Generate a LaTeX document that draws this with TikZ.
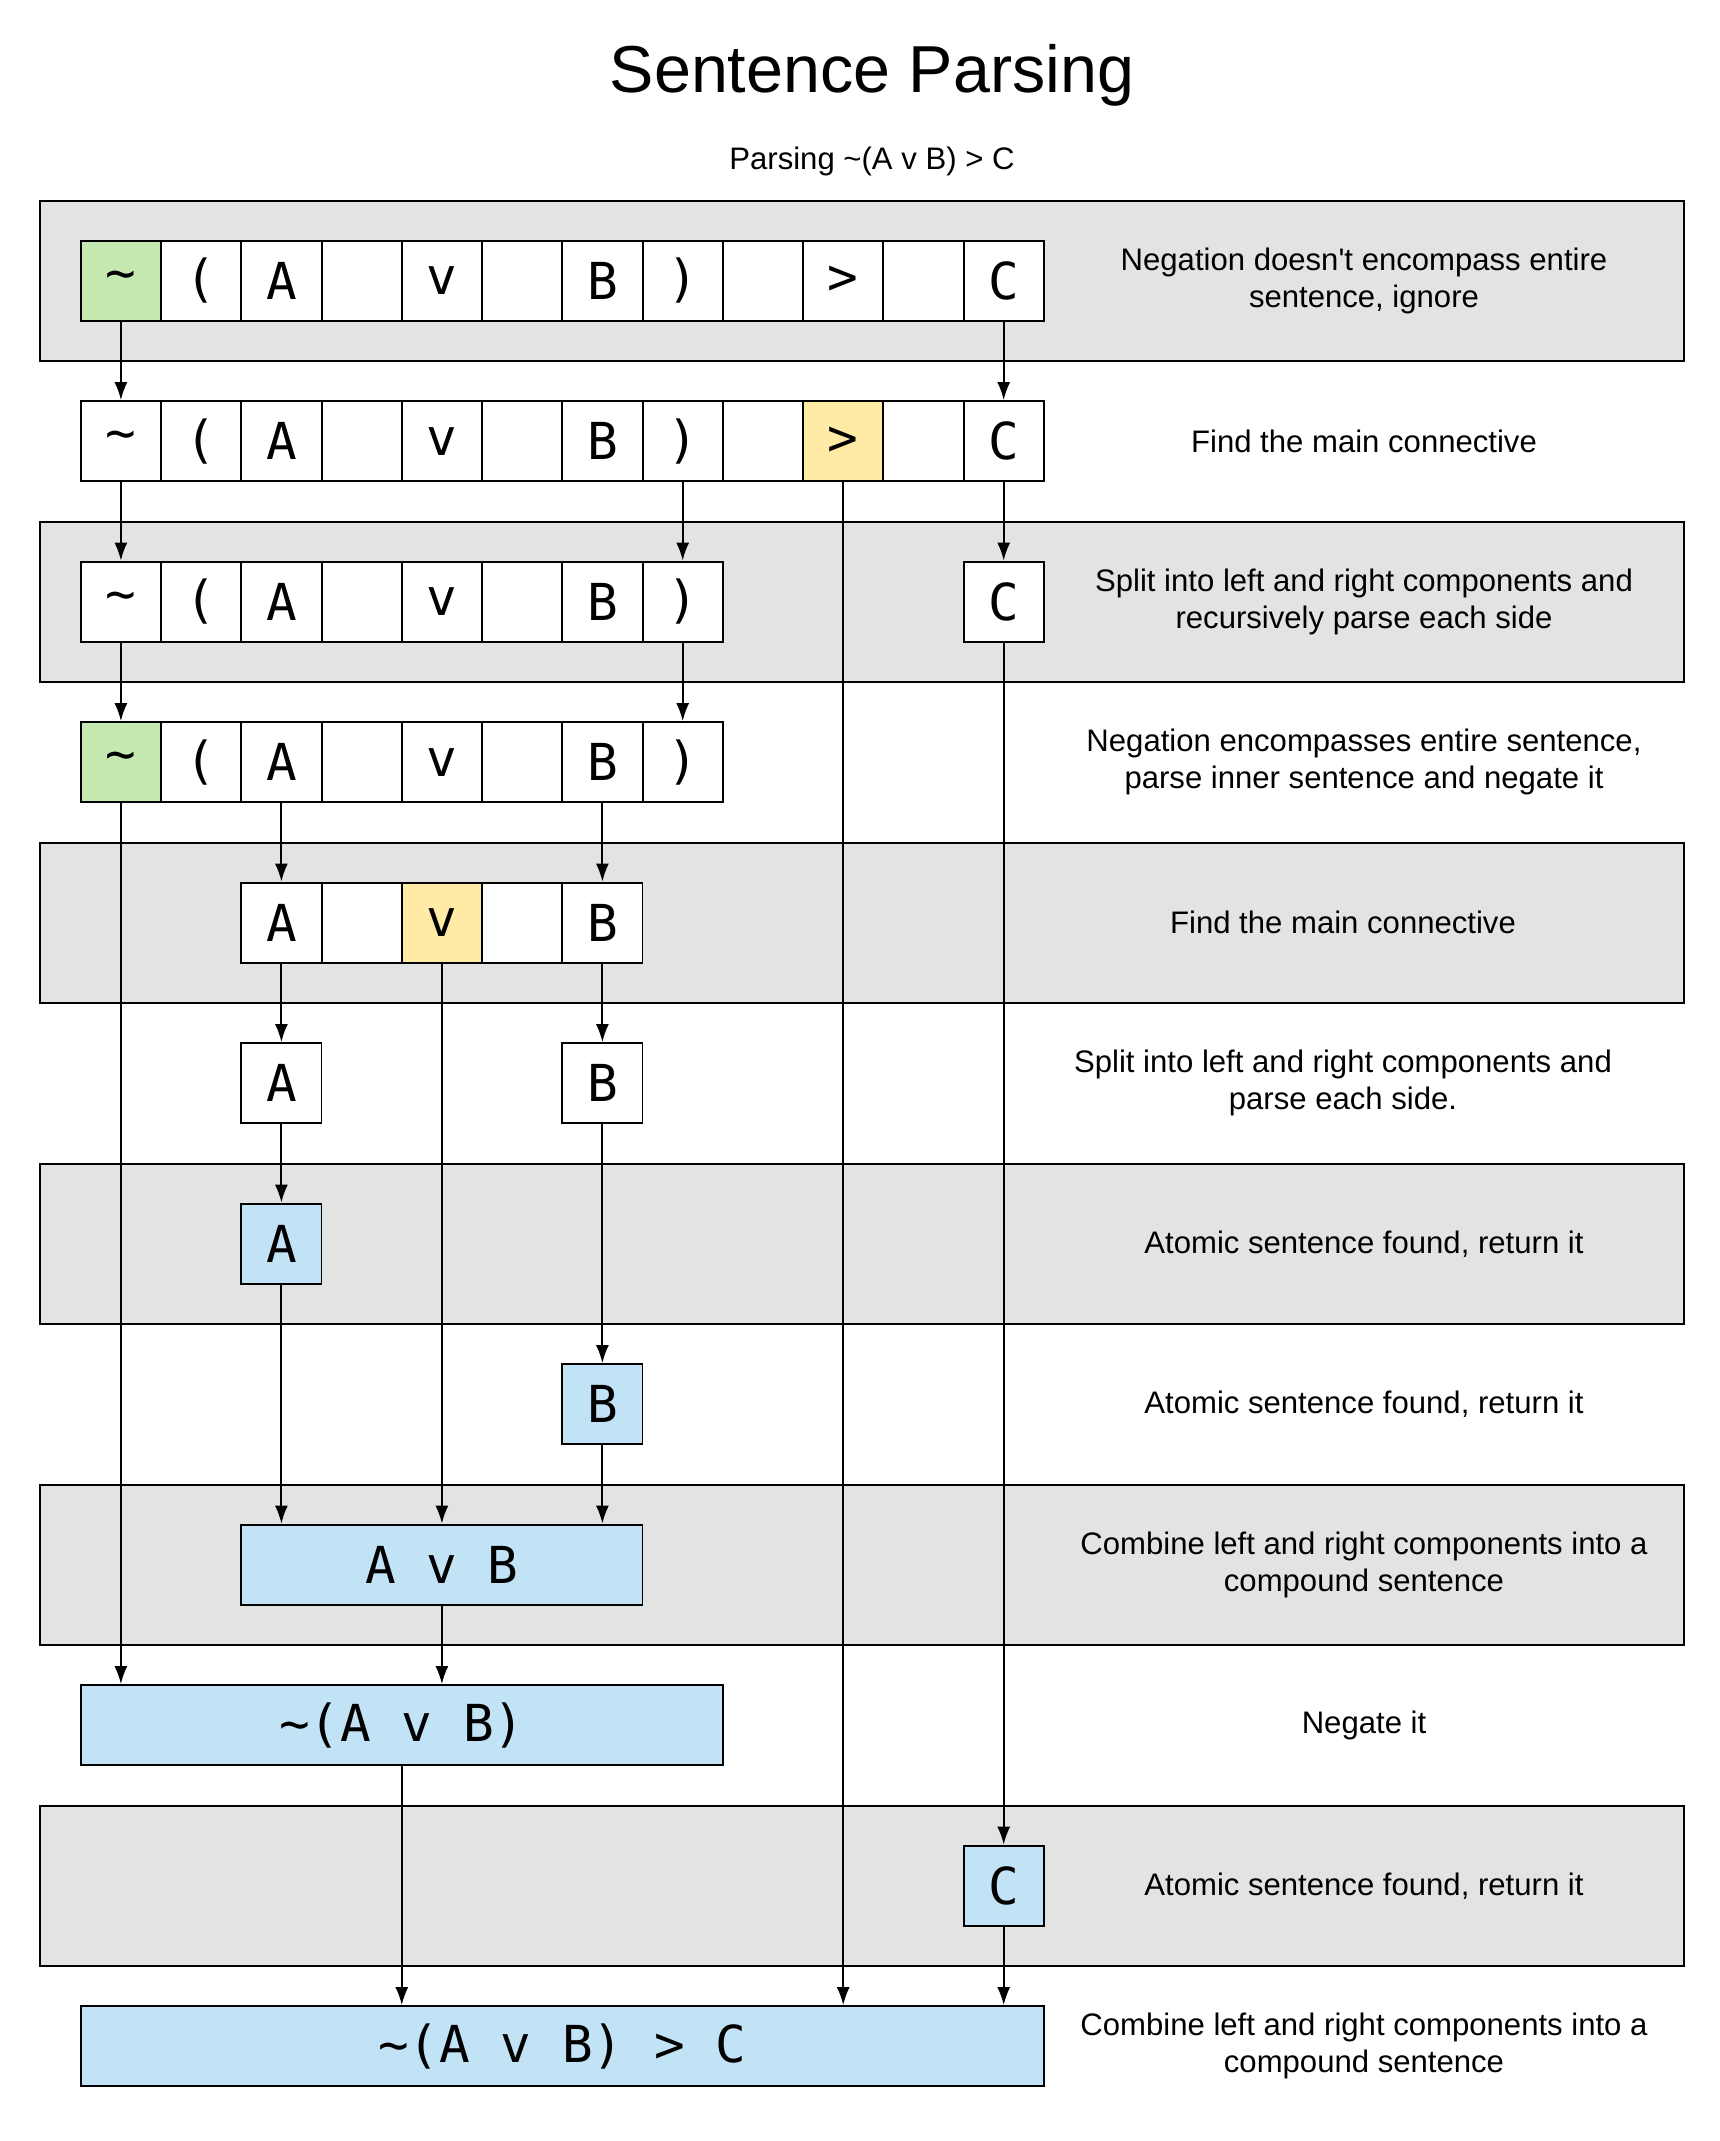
\documentclass[tikz,border=0pt]{standalone}
\usepackage{fontspec}
\setmainfont{Liberation Sans}
\newfontfamily\cellfont{DejaVu Sans Mono}
\usetikzlibrary{arrows.meta}

\definecolor{bandgray}{HTML}{E3E3E3}
\definecolor{neggreen}{HTML}{C5E8B0}
\definecolor{mainyellow}{HTML}{FFEAA6}
\definecolor{atomblue}{HTML}{C2E3F5}

\tikzset{
  cell/.style={draw, fill=white, minimum width=0.8025cm, minimum height=0.8025cm, inner sep=0pt, font=\cellfont\fontsize{14.5}{16}\selectfont},
  neg/.style={cell, fill=neggreen},
  conn/.style={cell, fill=mainyellow},
  atom/.style={cell, fill=atomblue},
  note/.style={align=center, font=\fontsize{8.85}{10.5}\selectfont},
  band/.style={draw, fill=bandgray},
}

\begin{document}
\begin{tikzpicture}[line width=0.55pt, >={Latex[length=1.8mm,width=1.3mm]}]
\useasboundingbox (0,0) rectangle (17.2,-21.41);

% gray bands
\draw[band] (0.397,-2.007) rectangle (16.844,-3.607);
\draw[band] (0.397,-5.217) rectangle (16.844,-6.817);
\draw[band] (0.397,-8.427) rectangle (16.844,-10.027);
\draw[band] (0.397,-11.637) rectangle (16.844,-13.237);
\draw[band] (0.397,-14.847) rectangle (16.844,-16.447);
\draw[band] (0.397,-18.057) rectangle (16.844,-19.657);

\node[font=\fontsize{18.9}{22}\selectfont] (title) at (8.72,-0.753) {Sentence Parsing};
\node[note] (subtitle) at (8.72,-1.616) {Parsing \textasciitilde(A v B) > C};

% row 0
\node[neg] (r0c0) at (1.209,-2.807) {\textasciitilde};
\node[cell] (r0c1) at (2.012,-2.807) {(};
\node[cell] (r0c2) at (2.814,-2.807) {A};
\node[cell] (r0c3) at (3.617,-2.807) {};
\node[cell] (r0c4) at (4.419,-2.807) {v};
\node[cell] (r0c5) at (5.222,-2.807) {};
\node[cell] (r0c6) at (6.024,-2.807) {B};
\node[cell] (r0c7) at (6.827,-2.807) {)};
\node[cell] (r0c8) at (7.629,-2.807) {};
\node[cell] (r0c9) at (8.432,-2.807) {>};
\node[cell] (r0c10) at (9.234,-2.807) {};
\node[cell] (r0c11) at (10.037,-2.807) {C};
\node[note] (n0) at (13.64,-2.807) {Negation doesn\textquotesingle t encompass entire\\sentence, ignore};

% row 1
\node[cell] (r1c0) at (1.209,-4.412) {\textasciitilde};
\node[cell] (r1c1) at (2.012,-4.412) {(};
\node[cell] (r1c2) at (2.814,-4.412) {A};
\node[cell] (r1c3) at (3.617,-4.412) {};
\node[cell] (r1c4) at (4.419,-4.412) {v};
\node[cell] (r1c5) at (5.222,-4.412) {};
\node[cell] (r1c6) at (6.024,-4.412) {B};
\node[cell] (r1c7) at (6.827,-4.412) {)};
\node[cell] (r1c8) at (7.629,-4.412) {};
\node[conn] (r1c9) at (8.432,-4.412) {>};
\node[cell] (r1c10) at (9.234,-4.412) {};
\node[cell] (r1c11) at (10.037,-4.412) {C};
\node[note] (n1) at (13.64,-4.412) {Find the main connective};

% row 2
\node[cell] (r2c0) at (1.209,-6.017) {\textasciitilde};
\node[cell] (r2c1) at (2.012,-6.017) {(};
\node[cell] (r2c2) at (2.814,-6.017) {A};
\node[cell] (r2c3) at (3.617,-6.017) {};
\node[cell] (r2c4) at (4.419,-6.017) {v};
\node[cell] (r2c5) at (5.222,-6.017) {};
\node[cell] (r2c6) at (6.024,-6.017) {B};
\node[cell] (r2c7) at (6.827,-6.017) {)};
\node[cell] (r2c11) at (10.037,-6.017) {C};
\node[note] (n2) at (13.64,-6.017) {Split into left and right components and\\recursively parse each side};

% row 3
\node[neg] (r3c0) at (1.209,-7.622) {\textasciitilde};
\node[cell] (r3c1) at (2.012,-7.622) {(};
\node[cell] (r3c2) at (2.814,-7.622) {A};
\node[cell] (r3c3) at (3.617,-7.622) {};
\node[cell] (r3c4) at (4.419,-7.622) {v};
\node[cell] (r3c5) at (5.222,-7.622) {};
\node[cell] (r3c6) at (6.024,-7.622) {B};
\node[cell] (r3c7) at (6.827,-7.622) {)};
\node[note] (n3) at (13.64,-7.622) {Negation encompasses entire sentence,\\parse inner sentence and negate it};

% row 4
\node[cell] (r4c2) at (2.814,-9.227) {A};
\node[cell] (r4c3) at (3.617,-9.227) {};
\node[conn] (r4c4) at (4.419,-9.227) {v};
\node[cell] (r4c5) at (5.222,-9.227) {};
\node[cell] (r4c6) at (6.024,-9.227) {B};
\node[note] (n4) at (13.43,-9.227) {Find the main connective};

% row 5
\node[cell] (r5c2) at (2.814,-10.832) {A};
\node[cell] (r5c6) at (6.024,-10.832) {B};
\node[note] (n5) at (13.43,-10.832) {Split into left and right components and\\parse each side.};

% rows 6 to 11
\node[atom] (r6c2) at (2.814,-12.437) {A};
\node[note] (n6) at (13.64,-12.437) {Atomic sentence found, return it};

\node[atom] (r7c6) at (6.024,-14.042) {B};
\node[note] (n7) at (13.64,-14.042) {Atomic sentence found, return it};

\node[atom, minimum width=4.0125cm] (r8) at (4.419,-15.647) {A v B};
\node[note] (n8) at (13.64,-15.647) {Combine left and right components into a\\compound sentence};

\node[atom, minimum width=6.42cm] (r9) at (4.018,-17.252) {\textasciitilde(A v B)};
\node[note] (n9) at (13.64,-17.252) {Negate it};

\node[atom] (r10c11) at (10.037,-18.857) {C};
\node[note] (n10) at (13.64,-18.857) {Atomic sentence found, return it};

\node[atom, minimum width=9.63cm] (r11) at (5.623,-20.462) {\textasciitilde(A v B) > C};
\node[note] (n11) at (13.64,-20.462) {Combine left and right components into a\\compound sentence};

% connectors
\draw[->] (r0c0) -- (r1c0);
\draw[->] (r0c11) -- (r1c11);
\draw[->] (r1c0) -- (r2c0);
\draw[->] (r1c7) -- (r2c7);
\draw[->] (r1c11) -- (r2c11);
\draw[->] (r1c9) -- (r1c9 |- r11.north);
\draw[->] (r2c0) -- (r3c0);
\draw[->] (r2c7) -- (r3c7);
\draw[->] (r2c11) -- (r10c11);
\draw[->] (r3c0) -- (r3c0 |- r9.north);
\draw[->] (r3c2) -- (r4c2);
\draw[->] (r3c6) -- (r4c6);
\draw[->] (r4c2) -- (r5c2);
\draw[->] (r4c4) -- (r4c4 |- r8.north);
\draw[->] (r4c6) -- (r5c6);
\draw[->] (r5c2) -- (r6c2);
\draw[->] (r5c6) -- (r7c6);
\draw[->] (r6c2) -- (r6c2 |- r8.north);
\draw[->] (r7c6) -- (r7c6 |- r8.north);
\draw[->] (r8) -- (r8 |- r9.north);
\draw[->] (r9) -- (r9 |- r11.north);
\draw[->] (r10c11) -- (r10c11 |- r11.north);
\end{tikzpicture}
\end{document}
